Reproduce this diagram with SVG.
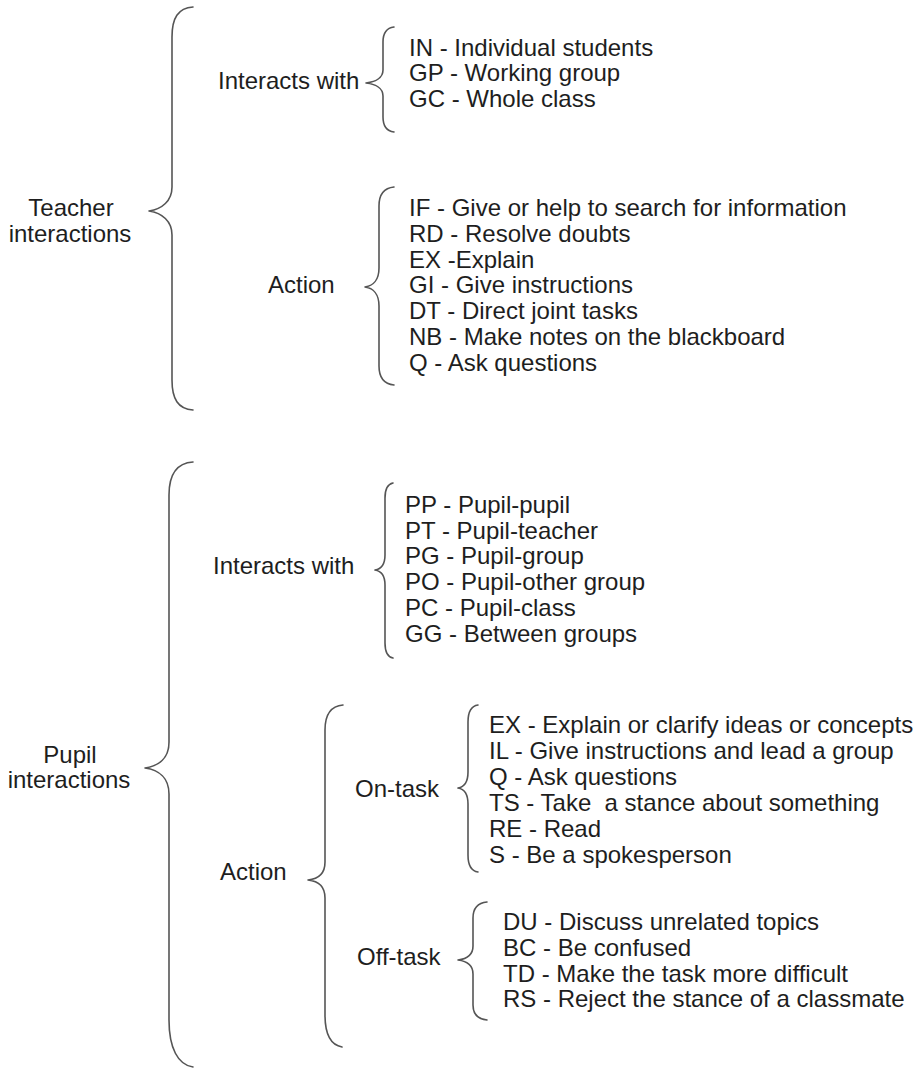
<svg xmlns="http://www.w3.org/2000/svg" width="921" height="1070" viewBox="0 0 921 1070">
  <style>
    text { font-family: "Liberation Sans", Arial, sans-serif; font-size: 24px; fill: #1e1e1e; }
    .mid { text-anchor: middle; }
    .brace { fill: none; stroke: #555; stroke-width: 1.6; stroke-linecap: round; stroke-linejoin: round; }
  </style>
  <rect width="921" height="1070" fill="#fff"/>

  <!-- curly braces joining each label to its sub-items -->
  <g id="connectors">
    <!-- Teacher interactions -->
    <path class="brace" d="M193,7 C178,8 172,18 172,37 V187 C172,201 162,209 149,211 C162,213 172,221 172,235 V380 C172,399 178,409 193,410"/>
    <!-- Teacher: Interacts with -->
    <path class="brace" d="M394,27 C386,28 383,33 383,42 V70 C383,78 375,82 366,83 C375,84 383,88 383,96 V117 C383,126 386,131 394,132"/>
    <!-- Teacher: Action -->
    <path class="brace" d="M394,187 C384,188 379,195 379,206 V268 C379,280 373,286 365,287 C373,288 379,294 379,306 V366 C379,378 384,384 394,385"/>
    <!-- Pupil interactions -->
    <path class="brace" d="M193,462 C177,463 169,474 169,495 V742 C169,758 159,766 145,768 C159,770 169,778 169,794 V1020 C169,1048 178,1065 193,1067"/>
    <!-- Pupil: Interacts with -->
    <path class="brace" d="M393,483 C388,484 385,489 385,498 V555 C385,564 381,569 375,570 C381,571 385,576 385,585 V643 C385,652 388,657 393,658"/>
    <!-- Pupil: Action -->
    <path class="brace" d="M343,705 C331,706 325,714 325,730 V862 C325,874 318,879 308,880 C318,881 325,886 325,898 V1015 C325,1034 331,1045 342,1047"/>
    <!-- Pupil: On-task -->
    <path class="brace" d="M478,705 C471,706 468,712 468,722 V772 C468,782 464,787 458,788 C464,789 468,794 468,804 V855 C468,866 471,871 478,872"/>
    <!-- Pupil: Off-task -->
    <path class="brace" d="M487,902 C477,903 473,909 473,918 V946 C473,955 466,959 458,960 C466,961 473,965 473,974 V1005 C473,1014 477,1019 487,1020"/>
  </g>

  <g id="teacher">
    <text class="mid" x="71" y="216">Teacher</text>
    <text class="mid" x="70" y="242">interactions</text>
  </g>

  <g id="teacher-interacts">
    <text x="218" y="89">Interacts with</text>
  </g>
  <g id="teacher-interacts-items">
    <text x="409" y="55.5">IN - Individual students</text>
    <text x="409" y="81.3">GP - Working group</text>
    <text x="409" y="107">GC - Whole class</text>
  </g>

  <g id="teacher-action">
    <text x="268" y="293">Action</text>
  </g>
  <g id="teacher-action-items">
    <text x="409" y="216">IF - Give or help to search for information</text>
    <text x="409" y="241.8">RD - Resolve doubts</text>
    <text x="409" y="267.6">EX -Explain</text>
    <text x="409" y="293.4">GI - Give instructions</text>
    <text x="409" y="319.2">DT - Direct joint tasks</text>
    <text x="409" y="345">NB - Make notes on the blackboard</text>
    <text x="409" y="370.8">Q - Ask questions</text>
  </g>

  <g id="pupil">
    <text class="mid" x="70" y="763">Pupil</text>
    <text class="mid" x="69" y="788">interactions</text>
  </g>

  <g id="pupil-interacts">
    <text x="213" y="574">Interacts with</text>
  </g>
  <g id="pupil-interacts-items">
    <text x="405" y="512.7">PP - Pupil-pupil</text>
    <text x="405" y="538.5">PT - Pupil-teacher</text>
    <text x="405" y="564.3">PG - Pupil-group</text>
    <text x="405" y="590.1">PO - Pupil-other group</text>
    <text x="405" y="615.9">PC - Pupil-class</text>
    <text x="405" y="641.7">GG - Between groups</text>
  </g>

  <g id="pupil-action">
    <text x="220" y="880">Action</text>
  </g>

  <g id="on-task">
    <text x="355" y="797">On-task</text>
  </g>
  <g id="on-task-items">
    <text x="489" y="733">EX - Explain or clarify ideas or concepts</text>
    <text x="489" y="759">IL - Give instructions and lead a group</text>
    <text x="489" y="785">Q - Ask questions</text>
    <text x="489" y="811">TS - Take&#160; a stance about something</text>
    <text x="489" y="837">RE - Read</text>
    <text x="489" y="863">S - Be a spokesperson</text>
  </g>

  <g id="off-task">
    <text x="357" y="965">Off-task</text>
  </g>
  <g id="off-task-items">
    <text x="503" y="930">DU - Discuss unrelated topics</text>
    <text x="503" y="956">BC - Be confused</text>
    <text x="503" y="982">TD - Make the task more difficult</text>
    <text x="503" y="1007">RS - Reject the stance of a classmate</text>
  </g>
</svg>
